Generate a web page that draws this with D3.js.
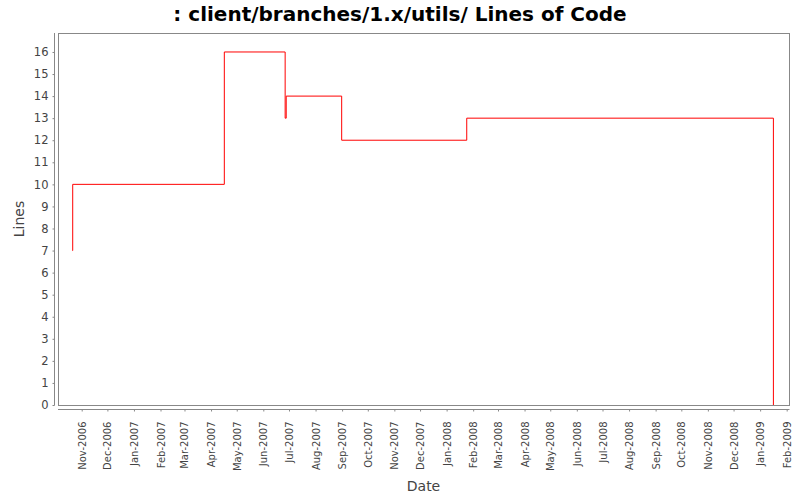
<!DOCTYPE html>
<html>
<head>
<meta charset="utf-8">
<script src="https://cdn.jsdelivr.net/npm/d3@7"></script>
<style>
  html, body { margin: 0; padding: 0; background: #fff; }
  svg { display: block; }
  text { font-family: "DejaVu Sans", sans-serif; fill: #444; }
</style>
</head>
<body>
<svg id="chart" width="800" height="500"></svg>
<script>
// ---- data ----
const titleText = ": client/branches/1.x/utils/ Lines of Code";
const xLabel = "Date";
const yLabel = "Lines";
const dates = [
  "2006-10-21T00:00:00Z", "2006-10-21T12:00:00Z", "2007-04-16T12:00:00Z",
  "2007-06-26T12:00:00Z", "2007-06-27T18:00:00Z", "2007-08-31T12:00:00Z",
  "2008-01-24T12:00:00Z", "2009-01-16T12:00:00Z"
];
const lines = [7, 10, 16, 13, 14, 12, 13, 0];
const xDomain = ["2006-10-04T08:00:00Z", "2009-02-03T17:00:00Z"];
const yDomain = [0, 16.86];
const yTicks = d3.range(0, 17);

// ---- layout ----
const W = 800, H = 500;
const plot = { left: 58, right: 789, top: 33, bottom: 405 };
const axisGap = 4;

const svg = d3.select("#chart");
svg.append("rect").attr("width", W).attr("height", H).attr("fill", "#fff");

const x = d3.scaleUtc()
  .domain(xDomain.map(d => new Date(d)))
  .range([plot.left, plot.right]);
const y = d3.scaleLinear().domain(yDomain).range([plot.bottom, plot.top]);

// title
svg.append("text")
  .attr("x", 400).attr("y", 21)
  .attr("text-anchor", "middle")
  .style("font-size", "20px").style("font-weight", "bold").style("fill", "#000")
  .text(titleText);

// plot outline
svg.append("rect")
  .attr("x", plot.left + 0.5).attr("y", plot.top + 0.5)
  .attr("width", plot.right - plot.left).attr("height", plot.bottom - plot.top)
  .attr("fill", "none").attr("stroke", "#888").attr("stroke-width", 1);

// y axis
const yAxis = d3.axisLeft(y).tickValues(yTicks).tickSize(2).tickPadding(4).tickFormat(d3.format("d"));
const gy = svg.append("g")
  .attr("transform", `translate(${plot.left - axisGap + 0.5},0)`)
  .call(yAxis);
gy.select(".domain").attr("stroke", "#888")
  .attr("d", `M0,${plot.top}V${plot.bottom + 0.5}`);
gy.selectAll(".tick line").attr("stroke", "#888");
gy.selectAll(".tick text").style("font-size", "11.5px").style("fill", "#444").attr("font-family", null);

// x axis
const xTicks = d3.utcMonth.range(new Date("2006-11-01T00:00:00Z"), new Date("2009-02-02T00:00:00Z"));
const xAxis = d3.axisBottom(x).tickValues(xTicks).tickSize(2).tickFormat(d3.utcFormat("%b-%Y"));
const gx = svg.append("g")
  .attr("transform", `translate(0,${plot.bottom + axisGap + 0.5})`)
  .call(xAxis);
gx.select(".domain").attr("stroke", "#888")
  .attr("d", `M${plot.left},0H${plot.right + 0.5}`);
gx.selectAll(".tick line").attr("stroke", "#888");
gx.selectAll(".tick text")
  .style("font-size", "10px").style("fill", "#444")
  .attr("text-anchor", "end")
  .attr("x", 0).attr("y", 0).attr("dy", "0.35em")
  .attr("transform", "translate(0,12) rotate(-90)");

// axis labels
svg.append("text")
  .attr("x", (plot.left + plot.right) / 2).attr("y", 491)
  .attr("text-anchor", "middle").style("font-size", "14px")
  .text(xLabel);
svg.append("text")
  .attr("transform", `translate(24,${(plot.top + plot.bottom) / 2}) rotate(-90)`)
  .attr("text-anchor", "middle").style("font-size", "14px")
  .text(yLabel);

// series
const data = dates.map((d, i) => ({ date: new Date(d), value: lines[i] }));
const line = d3.line()
  .x(d => x(d.date)).y(d => y(d.value))
  .curve(d3.curveStepAfter);
svg.append("path")
  .datum(data)
  .attr("d", line)
  .attr("fill", "none").attr("stroke", "#ff0000").attr("stroke-width", 1);
</script>
</body>
</html>
